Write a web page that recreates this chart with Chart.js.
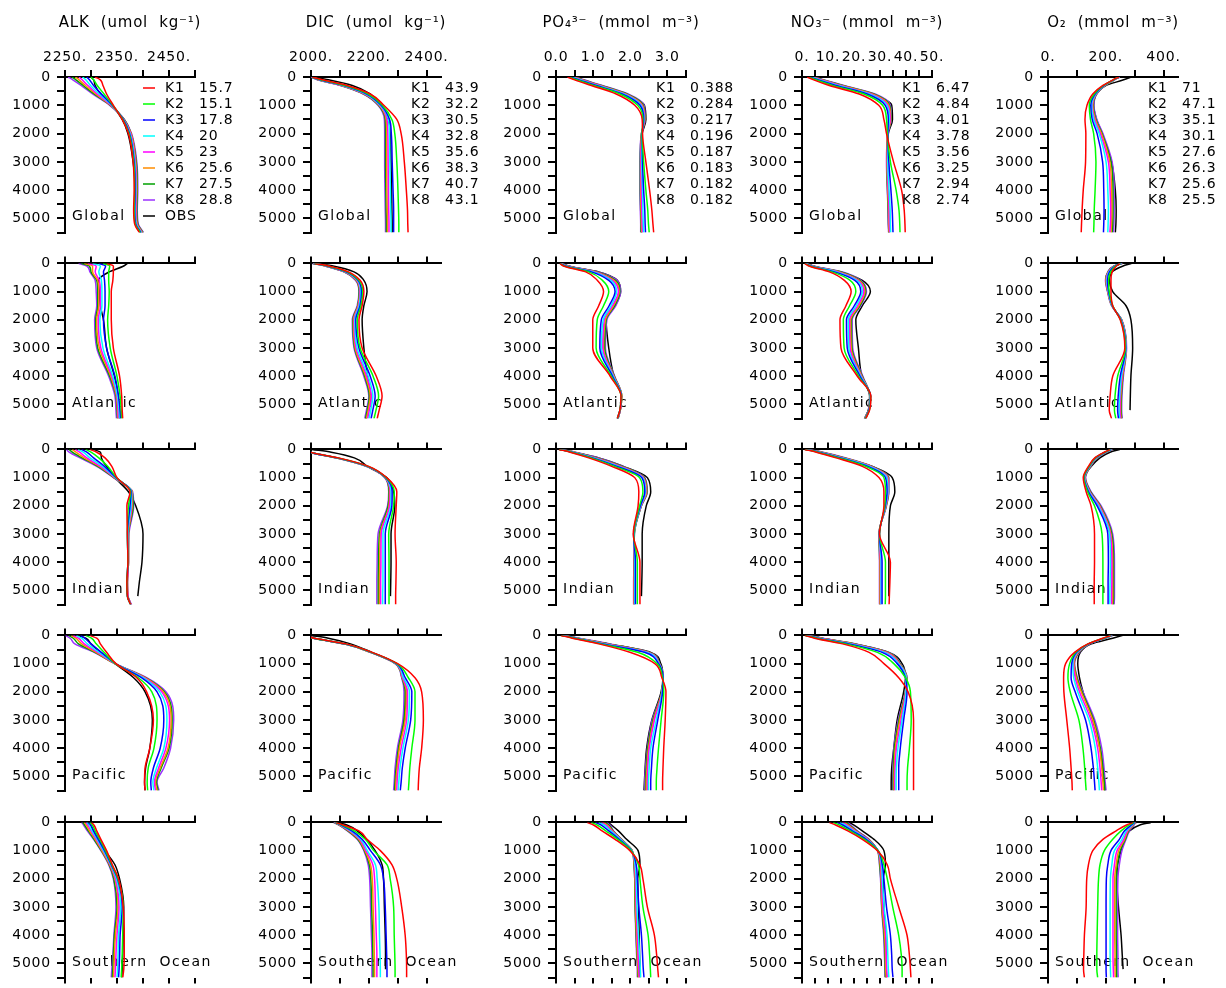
<!DOCTYPE html>
<html>
<head>
<meta charset="utf-8">
<script src="https://cdn.jsdelivr.net/npm/chart.js@4/dist/chart.umd.min.js"></script>
<style>
  body { margin: 0; background: #fff; }
  #wrap { position: relative; width: 1226px; height: 988px; overflow: hidden; background: #fff; }
  #wrap canvas { position: absolute; }
</style>
</head>
<body>
<div id="wrap"></div>
<script>
// depth levels (m) shared by every profile
const depths = [0, 100, 300, 600, 1000, 1500, 2000, 3000, 4000, 4700, 5200, 5500];

const runs = ["K1", "K2", "K3", "K4", "K5", "K6", "K7", "K8", "OBS"];
const runColors = ["#ff0000", "#00ff00", "#0000ff", "#00ffff", "#ff00ff", "#ff8c00", "#00a000", "#9b30ff", "#000000"];
const basins = ["Global", "Atlantic", "Indian", "Pacific", "Southern  Ocean"];

// numbers printed next to K1..K8 in the top row
const alkScores = [15.7, 15.1, 17.8, 20, 23, 25.6, 27.5, 28.8];
const dicScores = [43.9, 32.2, 30.5, 32.8, 35.6, 38.3, 40.7, 43.1];
const po4Scores = [0.388, 0.284, 0.217, 0.196, 0.187, 0.183, 0.182, 0.182];
const no3Scores = [6.47, 4.84, 4.01, 3.78, 3.56, 3.25, 2.94, 2.74];
const o2Scores = [71, 47.1, 35.1, 30.1, 27.6, 26.3, 25.6, 25.5];

// ---- ALK (umol/kg), rows: K1..K8, OBS ----
const alkGlobal = [
  [2308, 2318, 2323, 2330, 2343, 2360, 2372, 2381, 2383, 2382, 2384, 2393],
  [2300, 2305, 2312, 2325, 2342, 2361, 2373, 2382, 2384, 2383, 2385, 2395],
  [2292, 2297, 2305, 2320, 2341, 2362, 2374, 2383, 2385, 2384, 2386, 2396],
  [2284, 2290, 2299, 2316, 2340, 2362, 2375, 2384, 2386, 2385, 2387, 2397],
  [2277, 2283, 2294, 2312, 2339, 2363, 2376, 2385, 2387, 2386, 2388, 2398],
  [2270, 2277, 2289, 2309, 2338, 2363, 2377, 2386, 2388, 2387, 2389, 2399],
  [2263, 2271, 2285, 2306, 2337, 2364, 2377, 2387, 2389, 2388, 2390, 2400],
  [2256, 2265, 2281, 2303, 2336, 2364, 2378, 2388, 2390, 2389, 2391, 2401],
  [2300, 2305, 2308, 2318, 2340, 2360, 2371, 2381, 2385, 2384, 2386, 2395]
];
const alkAtlantic = [
  [2330, 2343, 2343, 2342, 2339, 2339, 2339, 2343, 2355, 2359, 2360, 2361],
  [2323, 2336, 2334, 2334, 2335, 2334, 2332, 2337, 2350, 2356, 2358, 2359],
  [2315, 2328, 2324, 2326, 2327, 2327, 2324, 2330, 2346, 2353, 2356, 2357],
  [2303, 2318, 2315, 2320, 2321, 2321, 2317, 2323, 2342, 2351, 2354, 2355],
  [2294, 2310, 2308, 2316, 2318, 2318, 2314, 2319, 2340, 2350, 2352, 2353],
  [2287, 2303, 2303, 2313, 2315, 2315, 2311, 2316, 2338, 2349, 2351, 2352],
  [2281, 2297, 2300, 2311, 2313, 2313, 2309, 2313, 2336, 2348, 2350, 2351],
  [2276, 2292, 2298, 2308, 2310, 2311, 2307, 2311, 2334, 2346, 2348, 2349],
  [2370, 2362, 2335, 2314, 2316, 2318, 2324, 2330, 2345, 2352, 2354, 2355]
];
const alkIndian = [
  [2298, 2311, 2327, 2340, 2350, 2375, 2369, 2370, 2371, 2369, 2370, 2376],
  [2290, 2300, 2315, 2332, 2349, 2376, 2372, 2370, 2371, 2369, 2370, 2376],
  [2282, 2292, 2305, 2326, 2348, 2377, 2375, 2370, 2371, 2369, 2370, 2376],
  [2275, 2285, 2298, 2322, 2347, 2378, 2377, 2371, 2371, 2369, 2370, 2376],
  [2270, 2278, 2292, 2318, 2346, 2378, 2378, 2371, 2372, 2370, 2371, 2377],
  [2264, 2271, 2287, 2316, 2345, 2379, 2379, 2372, 2372, 2370, 2371, 2377],
  [2258, 2264, 2283, 2313, 2344, 2379, 2381, 2372, 2372, 2370, 2371, 2377],
  [2253, 2258, 2279, 2311, 2343, 2380, 2382, 2373, 2372, 2370, 2371, 2378],
  [2305, 2318, 2320, 2330, 2346, 2372, 2386, 2400, 2398, 2393, 2390, null]
];
const alkPacific = [
  [2298, 2311, 2318, 2330, 2348, 2388, 2407, 2420, 2413, 2404, 2403, 2404],
  [2290, 2301, 2310, 2325, 2347, 2391, 2417, 2427, 2421, 2410, 2408, 2409],
  [2280, 2288, 2300, 2320, 2347, 2397, 2427, 2440, 2433, 2420, 2415, 2416],
  [2272, 2282, 2293, 2316, 2347, 2400, 2432, 2446, 2440, 2426, 2419, 2421],
  [2266, 2276, 2287, 2313, 2347, 2402, 2436, 2451, 2444, 2430, 2422, 2424],
  [2262, 2271, 2282, 2310, 2346, 2404, 2439, 2454, 2448, 2433, 2424, 2427],
  [2257, 2266, 2276, 2308, 2346, 2405, 2441, 2456, 2450, 2435, 2426, 2429],
  [2251, 2260, 2269, 2306, 2346, 2407, 2444, 2459, 2453, 2440, 2427, 2431],
  [2275, 2290, 2300, 2318, 2346, 2382, 2404, 2418, 2413, 2405, 2403, 2404]
];
const alkSouthern = [
  [2301, 2306, 2311, 2319, 2330, 2341, 2353, 2362, 2364, 2364, 2363, 2361],
  [2298, 2303, 2308, 2317, 2328, 2340, 2352, 2362, 2361, 2360, 2359, 2358],
  [2295, 2300, 2305, 2314, 2326, 2339, 2351, 2360, 2356, 2355, 2354, 2353],
  [2292, 2297, 2302, 2312, 2324, 2338, 2349, 2357, 2353, 2352, 2351, 2350],
  [2290, 2294, 2300, 2310, 2323, 2337, 2347, 2354, 2350, 2348, 2347, 2346],
  [2287, 2291, 2297, 2308, 2321, 2336, 2346, 2352, 2347, 2345, 2344, 2343],
  [2284, 2288, 2295, 2306, 2320, 2335, 2344, 2350, 2345, 2343, 2342, 2341],
  [2282, 2286, 2293, 2305, 2319, 2334, 2343, 2348, 2344, 2342, 2340, 2339],
  [2290, 2298, 2305, 2314, 2327, 2346, 2355, 2363, 2362, 2361, 2360, 2359]
];

// ---- DIC (umol/kg) ----
const dicGlobal = [
  [2005, 2040, 2125, 2205, 2252, 2297, 2312, 2323, 2330, 2334, 2335, 2336],
  [2004, 2035, 2118, 2198, 2247, 2280, 2290, 2297, 2301, 2303, 2304, 2304],
  [2003, 2032, 2114, 2193, 2243, 2272, 2278, 2281, 2284, 2286, 2286, 2286],
  [2003, 2030, 2111, 2190, 2240, 2268, 2272, 2273, 2275, 2276, 2277, 2277],
  [2002, 2028, 2108, 2187, 2238, 2263, 2266, 2267, 2268, 2269, 2270, 2270],
  [2002, 2026, 2106, 2185, 2236, 2260, 2262, 2262, 2263, 2264, 2265, 2265],
  [2001, 2024, 2104, 2183, 2234, 2257, 2258, 2258, 2259, 2260, 2261, 2261],
  [2001, 2022, 2102, 2181, 2232, 2254, 2255, 2255, 2256, 2257, 2258, 2258],
  [2005, 2060, 2143, 2205, 2240, 2268, 2274, 2277, 2279, 2280, 2281, 2281]
];
const dicAtlantic = [
  [2012, 2065, 2130, 2170, 2183, 2177, 2166, 2177, 2226, 2246, 2236, 2229],
  [2011, 2062, 2126, 2166, 2179, 2173, 2160, 2170, 2215, 2234, 2225, 2218],
  [2010, 2059, 2122, 2163, 2175, 2170, 2155, 2166, 2205, 2222, 2214, 2208],
  [2009, 2057, 2120, 2161, 2172, 2167, 2152, 2160, 2198, 2214, 2207, 2201],
  [2008, 2055, 2118, 2159, 2170, 2165, 2149, 2156, 2193, 2209, 2202, 2196],
  [2007, 2054, 2116, 2157, 2169, 2163, 2147, 2153, 2189, 2205, 2198, 2192],
  [2006, 2052, 2115, 2156, 2167, 2162, 2145, 2151, 2186, 2202, 2195, 2189],
  [2005, 2051, 2114, 2154, 2166, 2160, 2143, 2149, 2183, 2200, 2192, 2186],
  [2010, 2080, 2149, 2183, 2194, 2183, 2177, 2183, 2195, 2205, 2195, 2190]
];
const dicIndian = [
  [1985, 1996, 2095, 2200, 2262, 2297, 2295, 2291, 2295, 2294, 2293, 2293],
  [1985, 1996, 2093, 2198, 2260, 2288, 2286, 2269, 2270, 2270, 2270, 2270],
  [1984, 1995, 2091, 2196, 2259, 2281, 2280, 2257, 2257, 2257, 2257, 2257],
  [1984, 1995, 2090, 2195, 2258, 2277, 2276, 2249, 2249, 2249, 2248, 2248],
  [1984, 1995, 2089, 2194, 2257, 2274, 2272, 2243, 2242, 2241, 2241, 2241],
  [1983, 1994, 2088, 2193, 2257, 2272, 2270, 2240, 2238, 2237, 2237, 2237],
  [1983, 1994, 2087, 2192, 2256, 2270, 2267, 2237, 2234, 2233, 2233, 2233],
  [1983, 1994, 2086, 2191, 2255, 2269, 2265, 2232, 2229, 2228, 2228, 2228],
  [2003, 2070, 2150, 2195, 2262, 2286, 2290, 2277, 2277, 2276, 2275, null]
];
const dicPacific = [
  [1975, 2012, 2122, 2212, 2300, 2360, 2383, 2389, 2383, 2375, 2372, 2371],
  [1975, 2011, 2120, 2210, 2298, 2337, 2360, 2360, 2349, 2342, 2339, 2337],
  [1974, 2010, 2118, 2209, 2296, 2326, 2349, 2345, 2326, 2316, 2312, 2309],
  [1974, 2010, 2117, 2208, 2295, 2320, 2341, 2337, 2318, 2308, 2304, 2302],
  [1973, 2009, 2116, 2207, 2294, 2317, 2334, 2331, 2312, 2302, 2298, 2297],
  [1973, 2009, 2115, 2206, 2293, 2316, 2330, 2326, 2306, 2298, 2294, 2293],
  [1972, 2008, 2115, 2206, 2292, 2315, 2326, 2322, 2303, 2295, 2291, 2290],
  [1972, 2008, 2114, 2205, 2291, 2314, 2322, 2318, 2299, 2291, 2288, 2286],
  [2000, 2060, 2137, 2210, 2295, 2318, 2329, 2322, 2303, 2295, 2291, 2291]
];
const dicSouthern = [
  [2085, 2114, 2166, 2194, 2240, 2280, 2297, 2314, 2326, 2330, 2331, 2331],
  [2084, 2110, 2150, 2188, 2217, 2263, 2274, 2286, 2288, 2290, 2291, 2291],
  [2083, 2106, 2142, 2177, 2206, 2240, 2251, 2257, 2260, 2262, 2263, 2263],
  [2082, 2104, 2138, 2172, 2195, 2223, 2229, 2235, 2237, 2239, 2240, 2240],
  [2081, 2102, 2134, 2168, 2190, 2214, 2220, 2223, 2226, 2228, 2228, 2228],
  [2080, 2100, 2131, 2165, 2187, 2206, 2212, 2215, 2218, 2219, 2220, 2220],
  [2079, 2098, 2128, 2162, 2185, 2202, 2207, 2210, 2213, 2214, 2215, 2215],
  [2078, 2097, 2126, 2160, 2183, 2198, 2203, 2206, 2209, 2211, 2211, 2211],
  [2090, 2126, 2160, 2192, 2222, 2246, 2251, 2254, 2257, 2258, 2258, null]
];

// ---- PO4 (mmol/m3) ----
const po4Global = [
  [0.31, 0.50, 0.95, 1.62, 2.12, 2.32, 2.33, 2.42, 2.52, 2.58, 2.61, 2.63],
  [0.35, 0.55, 1.02, 1.72, 2.20, 2.34, 2.32, 2.36, 2.42, 2.47, 2.49, 2.51],
  [0.39, 0.60, 1.08, 1.78, 2.26, 2.36, 2.32, 2.33, 2.36, 2.39, 2.40, 2.41],
  [0.42, 0.64, 1.12, 1.82, 2.29, 2.37, 2.31, 2.31, 2.33, 2.34, 2.35, 2.36],
  [0.45, 0.67, 1.16, 1.85, 2.31, 2.38, 2.31, 2.29, 2.30, 2.31, 2.32, 2.33],
  [0.47, 0.70, 1.19, 1.88, 2.33, 2.39, 2.31, 2.28, 2.28, 2.29, 2.30, 2.31],
  [0.49, 0.72, 1.22, 1.91, 2.35, 2.39, 2.30, 2.27, 2.27, 2.28, 2.29, 2.29],
  [0.51, 0.75, 1.25, 1.94, 2.37, 2.40, 2.30, 2.26, 2.26, 2.27, 2.28, 2.28],
  [0.50, 0.70, 1.15, 1.85, 2.38, 2.42, 2.32, 2.28, 2.28, 2.29, 2.30, 2.30]
];
const po4Atlantic = [
  [0.10, 0.22, 0.80, 1.11, 1.28, 1.15, 0.99, 0.99, 1.46, 1.75, 1.72, 1.65],
  [0.11, 0.24, 0.88, 1.25, 1.42, 1.28, 1.11, 1.08, 1.49, 1.75, 1.72, 1.65],
  [0.12, 0.27, 0.95, 1.42, 1.59, 1.43, 1.22, 1.18, 1.52, 1.76, 1.72, 1.65],
  [0.13, 0.29, 1.00, 1.48, 1.63, 1.48, 1.27, 1.22, 1.54, 1.76, 1.72, 1.66],
  [0.14, 0.31, 1.04, 1.52, 1.68, 1.52, 1.30, 1.26, 1.55, 1.76, 1.73, 1.66],
  [0.15, 0.33, 1.07, 1.56, 1.70, 1.55, 1.33, 1.28, 1.56, 1.77, 1.73, 1.66],
  [0.16, 0.35, 1.10, 1.60, 1.72, 1.58, 1.35, 1.31, 1.57, 1.77, 1.73, 1.67],
  [0.17, 0.37, 1.13, 1.64, 1.74, 1.61, 1.37, 1.33, 1.58, 1.77, 1.73, 1.67],
  [0.15, 0.35, 1.15, 1.65, 1.74, 1.59, 1.35, 1.42, 1.56, 1.76, 1.73, 1.66]
];
const po4Indian = [
  [0.08, 0.38, 0.88, 1.50, 2.12, 2.23, 2.21, 2.08, 2.26, 2.26, 2.26, 2.26],
  [0.09, 0.41, 0.94, 1.58, 2.25, 2.34, 2.25, 2.09, 2.19, 2.19, 2.19, 2.19],
  [0.10, 0.43, 0.98, 1.64, 2.31, 2.39, 2.27, 2.09, 2.14, 2.14, 2.14, 2.14],
  [0.10, 0.45, 1.01, 1.68, 2.33, 2.41, 2.28, 2.10, 2.12, 2.12, 2.12, 2.12],
  [0.11, 0.46, 1.04, 1.72, 2.35, 2.42, 2.29, 2.10, 2.11, 2.11, 2.11, 2.11],
  [0.11, 0.48, 1.07, 1.75, 2.36, 2.44, 2.29, 2.10, 2.11, 2.10, 2.10, 2.10],
  [0.12, 0.50, 1.10, 1.78, 2.38, 2.45, 2.30, 2.11, 2.10, 2.10, 2.10, 2.10],
  [0.12, 0.52, 1.15, 1.81, 2.39, 2.46, 2.30, 2.11, 2.10, 2.09, 2.09, 2.09],
  [0.10, 0.45, 1.15, 1.81, 2.46, 2.55, 2.43, 2.32, 2.32, 2.31, 2.30, null]
];
const po4Pacific = [
  [0.13, 0.44, 1.15, 1.99, 2.66, 2.85, 2.96, 2.94, 2.90, 2.88, 2.87, 2.87],
  [0.15, 0.48, 1.20, 2.20, 2.72, 2.87, 2.90, 2.83, 2.76, 2.72, 2.70, 2.70],
  [0.17, 0.52, 1.26, 2.38, 2.76, 2.88, 2.87, 2.74, 2.61, 2.57, 2.55, 2.55],
  [0.18, 0.54, 1.30, 2.43, 2.77, 2.88, 2.86, 2.70, 2.55, 2.51, 2.49, 2.49],
  [0.19, 0.56, 1.34, 2.46, 2.78, 2.88, 2.86, 2.65, 2.51, 2.47, 2.46, 2.46],
  [0.20, 0.58, 1.38, 2.48, 2.78, 2.88, 2.85, 2.63, 2.49, 2.45, 2.43, 2.43],
  [0.21, 0.60, 1.42, 2.50, 2.79, 2.88, 2.85, 2.61, 2.47, 2.43, 2.41, 2.41],
  [0.22, 0.62, 1.46, 2.52, 2.79, 2.88, 2.85, 2.59, 2.46, 2.41, 2.39, 2.39],
  [0.20, 0.55, 1.40, 2.55, 2.82, 2.88, 2.83, 2.58, 2.44, 2.40, 2.38, 2.37]
];
const po4Southern = [
  [0.84, 1.02, 1.24, 1.59, 1.99, 2.26, 2.34, 2.46, 2.65, 2.71, 2.74, 2.76],
  [0.95, 1.12, 1.34, 1.66, 2.02, 2.22, 2.26, 2.34, 2.48, 2.52, 2.54, 2.55],
  [1.06, 1.22, 1.42, 1.70, 2.03, 2.16, 2.19, 2.23, 2.30, 2.33, 2.35, 2.37],
  [1.15, 1.30, 1.47, 1.73, 2.04, 2.13, 2.16, 2.18, 2.22, 2.25, 2.27, 2.28],
  [1.22, 1.35, 1.50, 1.74, 2.04, 2.12, 2.14, 2.16, 2.19, 2.21, 2.23, 2.24],
  [1.27, 1.39, 1.52, 1.75, 2.05, 2.11, 2.13, 2.14, 2.17, 2.19, 2.21, 2.22],
  [1.32, 1.43, 1.54, 1.76, 2.05, 2.10, 2.12, 2.13, 2.16, 2.18, 2.20, 2.20],
  [1.37, 1.46, 1.55, 1.77, 2.05, 2.10, 2.12, 2.13, 2.15, 2.17, 2.19, 2.19],
  [1.40, 1.50, 1.68, 1.90, 2.21, 2.26, 2.20, 2.22, 2.24, 2.25, 2.26, 2.26]
];

// ---- NO3 (mmol/m3) ----
const no3Global = [
  [2.0, 4.5, 10.5, 22.0, 29.5, 31.5, 32.5, 35.2, 38.3, 39.3, 39.6, 39.7],
  [2.5, 5.3, 11.8, 23.8, 31.0, 32.5, 32.8, 34.0, 36.2, 37.3, 37.6, 37.7],
  [3.0, 6.0, 13.0, 25.0, 32.0, 33.2, 33.0, 33.4, 34.2, 34.7, 34.9, 35.0],
  [3.4, 6.6, 13.8, 25.8, 32.6, 33.6, 33.0, 33.0, 33.5, 33.9, 34.0, 34.1],
  [3.8, 7.1, 14.5, 26.5, 33.0, 33.9, 33.0, 32.8, 33.2, 33.5, 33.6, 33.7],
  [4.1, 7.5, 15.1, 27.1, 33.4, 34.1, 33.0, 32.7, 33.0, 33.3, 33.4, 33.5],
  [4.4, 7.9, 15.6, 27.6, 33.7, 34.2, 33.0, 32.6, 32.9, 33.2, 33.3, 33.4],
  [4.7, 8.3, 16.1, 28.1, 34.0, 34.3, 33.0, 32.5, 32.8, 33.1, 33.2, 33.3],
  [4.5, 7.5, 14.5, 27.0, 34.5, 34.8, 33.2, 32.8, 33.0, 33.2, 33.3, 33.4]
];
const no3Atlantic = [
  [1.0, 2.9, 10.5, 16.3, 18.9, 16.9, 14.6, 15.0, 21.3, 26.5, 26.0, 24.5],
  [1.2, 3.2, 11.5, 18.5, 20.7, 18.3, 15.9, 16.2, 21.8, 26.4, 25.9, 24.4],
  [1.4, 3.5, 12.5, 20.3, 22.6, 20.1, 17.1, 17.4, 22.3, 26.4, 25.8, 24.4],
  [1.5, 3.8, 13.2, 21.0, 23.2, 20.8, 17.8, 18.0, 22.6, 26.3, 25.8, 24.3],
  [1.6, 4.0, 13.8, 21.5, 23.8, 21.4, 18.3, 18.5, 22.8, 26.3, 25.7, 24.3],
  [1.7, 4.2, 14.4, 21.9, 24.2, 21.9, 18.7, 18.9, 23.0, 26.2, 25.7, 24.2],
  [1.8, 4.5, 15.0, 22.3, 24.5, 22.3, 19.0, 19.2, 23.2, 26.2, 25.6, 24.2],
  [1.9, 4.8, 15.6, 22.6, 24.8, 22.6, 19.3, 19.5, 23.4, 26.1, 25.6, 24.1],
  [2.0, 4.5, 14.5, 23.2, 26.3, 23.2, 20.7, 21.7, 23.0, 26.0, 25.5, 24.0]
];
const no3Indian = [
  [1.0, 5.5, 13.1, 23.2, 29.6, 31.5, 31.5, 29.8, 34.0, 33.8, 33.6, 33.5],
  [1.2, 6.0, 14.0, 24.5, 31.5, 32.1, 31.8, 29.8, 32.1, 32.1, 32.1, 32.0],
  [1.4, 6.4, 14.7, 25.3, 32.1, 32.7, 32.0, 29.8, 30.8, 30.8, 30.8, 30.8],
  [1.5, 6.7, 15.2, 25.9, 32.6, 33.0, 32.1, 29.8, 30.4, 30.4, 30.4, 30.4],
  [1.6, 7.0, 15.6, 26.3, 32.9, 33.1, 32.2, 29.7, 30.2, 30.2, 30.2, 30.2],
  [1.7, 7.3, 16.0, 26.6, 33.1, 33.2, 32.3, 29.7, 30.0, 30.0, 30.0, 30.0],
  [1.8, 7.6, 16.4, 26.9, 33.3, 33.3, 32.4, 29.6, 29.9, 29.9, 29.9, 29.9],
  [1.9, 8.0, 16.9, 27.1, 33.4, 33.4, 32.5, 29.6, 29.8, 29.8, 29.8, 29.8],
  [2.0, 7.0, 15.5, 27.0, 34.7, 35.7, 34.0, 33.4, 33.4, 33.4, 33.4, null]
];
const no3Pacific = [
  [1.0, 4.8, 15.6, 25.8, 31.5, 37.2, 40.8, 42.9, 42.9, 42.9, 42.9, 42.9],
  [1.3, 5.5, 16.8, 29.0, 35.3, 39.8, 41.7, 42.0, 41.3, 40.6, 40.4, 40.4],
  [1.6, 6.0, 18.0, 30.8, 36.6, 39.8, 40.4, 39.1, 37.8, 37.2, 37.2, 37.2],
  [1.8, 6.4, 18.7, 31.7, 37.0, 40.0, 40.0, 38.5, 36.9, 36.3, 36.2, 36.2],
  [2.0, 6.8, 19.3, 32.3, 37.3, 40.1, 39.9, 38.1, 36.3, 35.8, 35.7, 35.7],
  [2.2, 7.2, 19.8, 32.8, 37.5, 40.2, 39.9, 37.6, 35.9, 35.5, 35.4, 35.4],
  [2.4, 7.6, 20.3, 33.1, 37.7, 40.3, 39.8, 37.3, 35.5, 35.2, 35.1, 35.1],
  [2.6, 8.0, 20.7, 33.4, 37.8, 40.4, 39.8, 37.0, 35.3, 35.0, 34.9, 34.9],
  [2.5, 7.5, 20.0, 33.4, 38.5, 39.8, 39.1, 36.6, 35.3, 34.5, 34.3, 34.3]
];
const no3Southern = [
  [10.5, 13.1, 17.6, 23.2, 29.0, 32.8, 34.0, 37.2, 40.4, 41.3, 41.7, 41.9],
  [12.0, 14.5, 18.5, 24.0, 29.3, 31.5, 32.8, 34.9, 37.2, 38.2, 38.5, 38.5],
  [13.5, 15.8, 19.3, 24.6, 29.3, 30.9, 31.5, 32.5, 34.0, 34.5, 34.7, 35.0],
  [14.6, 16.7, 19.9, 24.9, 29.2, 30.6, 30.9, 31.6, 32.7, 33.0, 33.2, 33.4],
  [15.5, 17.3, 20.3, 25.2, 29.2, 30.3, 30.6, 31.1, 32.2, 32.4, 32.6, 32.8],
  [16.3, 17.8, 20.7, 25.4, 29.1, 30.1, 30.4, 30.8, 31.8, 32.1, 32.2, 32.4],
  [17.0, 18.3, 21.0, 25.6, 29.1, 29.9, 30.3, 30.7, 31.6, 31.9, 32.0, 32.1],
  [17.6, 18.8, 21.3, 25.8, 29.0, 29.8, 30.2, 30.6, 31.4, 31.7, 31.9, 31.9],
  [18.2, 20.0, 23.2, 27.7, 31.5, 32.1, 31.2, 31.5, 32.1, 32.3, 32.4, 32.4]
];

// ---- O2 (mmol/m3) ----
const o2Global = [
  [245, 225, 190, 155, 135, 128, 131, 130, 122, 118, 116, 115],
  [245, 226, 192, 160, 143, 147, 158, 166, 163, 160, 159, 158],
  [246, 227, 194, 163, 148, 153, 170, 189, 193, 194, 193, 192],
  [246, 228, 195, 165, 151, 158, 177, 201, 207, 209, 208, 207],
  [247, 229, 196, 166, 153, 161, 181, 209, 215, 217, 216, 214],
  [247, 229, 197, 167, 155, 164, 185, 214, 220, 221, 220, 218],
  [247, 230, 198, 168, 157, 166, 187, 218, 225, 225, 224, 222],
  [248, 230, 198, 169, 159, 169, 190, 222, 229, 229, 228, 226],
  [287, 262, 200, 168, 158, 168, 188, 220, 233, 236, 235, 233]
];
const o2Atlantic = [
  [250, 236, 222, 218, 218, 224, 250, 266, 224, 215, 212, 220],
  [252, 234, 217, 210, 212, 224, 251, 268, 241, 232, 230, 235],
  [254, 232, 213, 206, 210, 223, 252, 269, 250, 243, 241, 244],
  [255, 231, 211, 204, 209, 222, 253, 270, 254, 248, 246, 248],
  [256, 230, 210, 202, 208, 222, 254, 270, 256, 250, 249, 251],
  [257, 229, 209, 201, 207, 221, 254, 271, 258, 252, 251, 253],
  [258, 228, 208, 200, 207, 221, 255, 271, 259, 254, 253, 255],
  [258, 227, 207, 199, 206, 220, 255, 272, 261, 256, 255, 257],
  [290, 258, 222, 213, 224, 270, 287, 293, 287, 285, 284, null]
];
const o2Indian = [
  [215, 195, 162, 140, 122, 132, 149, 161, 161, 160, 160, 160],
  [217, 197, 164, 142, 124, 137, 161, 187, 190, 190, 190, 190],
  [219, 198, 165, 143, 125, 140, 170, 207, 209, 208, 208, 208],
  [220, 199, 166, 144, 126, 142, 174, 213, 216, 215, 214, 214],
  [221, 200, 167, 145, 127, 144, 177, 216, 221, 221, 220, 220],
  [222, 201, 168, 146, 128, 145, 179, 218, 224, 224, 224, 223],
  [223, 202, 169, 147, 129, 147, 181, 221, 227, 227, 227, 226],
  [224, 203, 170, 148, 130, 149, 184, 224, 230, 230, 230, 229],
  [250, 215, 180, 150, 125, 145, 178, 215, 225, 228, 228, null]
];
const o2Pacific = [
  [218, 190, 138, 92, 61, 54, 55, 65, 75, 80, 83, 84],
  [219, 192, 139, 96, 75, 69, 77, 107, 121, 127, 130, 132],
  [220, 194, 140, 99, 82, 80, 94, 130, 149, 157, 161, 163],
  [221, 195, 141, 101, 86, 89, 103, 142, 164, 172, 176, 178],
  [222, 196, 142, 103, 88, 94, 109, 149, 172, 180, 184, 186],
  [222, 197, 142, 105, 90, 98, 115, 155, 178, 186, 190, 192],
  [223, 198, 143, 107, 91, 100, 118, 158, 181, 190, 195, 197],
  [224, 199, 144, 109, 92, 102, 121, 162, 186, 194, 198, 201],
  [259, 224, 150, 112, 103, 109, 121, 155, 180, 190, 195, 197]
];
const o2Southern = [
  [295, 270, 236, 190, 155, 140, 134, 132, 126, 124, 123, 126],
  [298, 280, 253, 224, 195, 180, 175, 172, 170, 169, 169, 172],
  [300, 287, 265, 247, 218, 207, 202, 201, 201, 201, 201, 202],
  [301, 290, 271, 256, 230, 221, 216, 215, 215, 215, 216, 217],
  [302, 292, 275, 262, 239, 230, 225, 225, 225, 225, 226, 227],
  [303, 294, 277, 265, 245, 236, 231, 231, 231, 232, 232, 233],
  [304, 295, 279, 268, 250, 240, 236, 236, 236, 237, 237, 238],
  [305, 297, 282, 270, 256, 247, 242, 241, 241, 242, 242, 243],
  [356, 316, 282, 266, 253, 241, 238, 244, 253, 257, 260, null]
];

// one column per variable
const columns = [
  { title: "ALK  (umol  kg⁻¹)", min: 2250, max: 2500, step: 50, fmt: v => v + ".",
    panels: [alkGlobal, alkAtlantic, alkIndian, alkPacific, alkSouthern], scores: alkScores },
  { title: "DIC  (umol  kg⁻¹)", min: 2000, max: 2450, step: 100, fmt: v => v + ".",
    panels: [dicGlobal, dicAtlantic, dicIndian, dicPacific, dicSouthern], scores: dicScores },
  { title: "PO₄³⁻  (mmol  m⁻³)", min: 0, max: 3.5, step: 0.5, fmt: v => v.toFixed(1),
    panels: [po4Global, po4Atlantic, po4Indian, po4Pacific, po4Southern], scores: po4Scores },
  { title: "NO₃⁻  (mmol  m⁻³)", min: 0, max: 50, step: 5, fmt: v => v + ".",
    panels: [no3Global, no3Atlantic, no3Indian, no3Pacific, no3Southern], scores: no3Scores },
  { title: "O₂  (mmol  m⁻³)", min: 0, max: 450, step: 100, fmt: v => v + ".",
    panels: [o2Global, o2Atlantic, o2Indian, o2Pacific, o2Southern], scores: o2Scores }
];

Chart.defaults.font.family = '"DejaVu Sans", sans-serif';
Chart.defaults.font.size = 14;
Chart.defaults.color = "#000";

// region name, legend and a slightly wider letter spacing
const panelText = {
  id: "panelText",
  beforeDraw(chart) {
    chart.ctx.letterSpacing = "0.8px";
  },
  beforeDatasetsDraw(chart, args, opts) {
    const { ctx, chartArea } = chart;
    ctx.save();
    ctx.font = '14px "DejaVu Sans", sans-serif';
    ctx.letterSpacing = "1.5px";
    ctx.fillStyle = "#000";
    ctx.textBaseline = "middle";
    ctx.fillText(opts.basin, chartArea.left + 7, chartArea.top + 139.5);
    ctx.restore();
  },
  afterDraw(chart, args, opts) {
    if (!opts.scores) return;
    const { ctx, chartArea } = chart;
    ctx.save();
    ctx.font = '14px "DejaVu Sans", sans-serif';
    ctx.fillStyle = "#000";
    ctx.textBaseline = "middle";
    const n = opts.withLines ? runs.length : opts.scores.length;
    for (let i = 0; i < n; i++) {
      const y = chartArea.top + 11 + i * 16;
      if (opts.withLines) {
        ctx.strokeStyle = runColors[i];
        ctx.lineWidth = 1.5;
        ctx.beginPath();
        ctx.moveTo(chartArea.left + 78, y);
        ctx.lineTo(chartArea.left + 90, y);
        ctx.stroke();
      }
      ctx.fillText(runs[i], chartArea.left + 100, y);
      if (i < opts.scores.length) ctx.fillText(String(opts.scores[i]), chartArea.left + 134, y);
    }
    ctx.restore();
  }
};

const wrap = document.getElementById("wrap");
const axisGrid = len => ({ drawOnChartArea: false, drawTicks: true, tickLength: len, color: "#000", lineWidth: 2 });
const axisBorder = { display: true, color: "#000", width: 2 };

// each canvas is 65 + 130 + 65 px wide; an empty right axis keeps the plot centred under the title
function buildPanel(col, row) {
  const c = columns[col];
  const isTop = row === 0;
  const isBottom = row === basins.length - 1;
  const topSpace = isTop ? 77 : 14;
  const W = 260;
  const H = topSpace + 160 + 10;

  const canvas = document.createElement("canvas");
  canvas.width = W;
  canvas.height = H;
  canvas.style.left = Math.round(col * 245.7) + "px";
  canvas.style.top = (Math.round(76.7 + row * 186.2) - topSpace) + "px";
  wrap.appendChild(canvas);

  const profiles = c.panels[row];
  const datasets = profiles.map((vals, k) => ({
    label: runs[k],
    data: depths.map((d, i) => ({ x: vals[i], y: d })),
    borderColor: runColors[k],
    borderWidth: 1.5,
    pointRadius: 0,
    fill: false,
    cubicInterpolationMode: "monotone",
    clip: 0
  }));

  const xTicks = {
    display: isTop,
    stepSize: c.step,
    includeBounds: false,
    autoSkip: false,
    maxRotation: 0,
    minRotation: 0,
    padding: 4,
    callback: (v, i) => (i % 2 ? "" : c.fmt(v))
  };

  const scales = {
    x: {
      type: "linear", position: "top", min: c.min, max: c.max,
      ticks: xTicks, grid: axisGrid(7), border: axisBorder,
      afterFit: s => { s.height = isTop ? 46 : 14; }
    },
    y: {
      type: "linear", position: "left", reverse: true, min: 0, max: 5500,
      ticks: { stepSize: 500, autoSkip: false, padding: 6, callback: v => (v % 1000 === 0 ? String(v) : "") },
      grid: axisGrid(8), border: axisBorder,
      afterFit: s => { s.width = 65; }
    },
    yRight: {
      type: "linear", position: "right", reverse: true, min: 0, max: 5500,
      ticks: { display: false },
      grid: { display: false, drawTicks: false },
      border: { display: false },
      afterFit: s => { s.width = W - 65 - 130; }
    }
  };
  if (isBottom) {
    scales.x2 = {
      type: "linear", position: "bottom", min: c.min, max: c.max,
      ticks: { display: false, stepSize: c.step, includeBounds: false, autoSkip: false },
      grid: axisGrid(6), border: { display: false },
      afterFit: s => { s.height = 10; }
    };
  }

  new Chart(canvas, {
    type: "line",
    data: { datasets },
    options: {
      responsive: false,
      animation: false,
      events: [],
      indexAxis: "y",
      layout: { padding: { left: 0, top: 0, right: 0, bottom: isBottom ? 0 : 10 } },
      scales,
      plugins: {
        legend: { display: false },
        tooltip: { enabled: false },
        title: {
          display: isTop,
          text: c.title,
          color: "#000",
          font: { size: 15, weight: "normal", lineHeight: 1 },
          padding: { top: 16, bottom: 0 }
        },
        panelText: {
          basin: basins[row],
          scores: isTop ? c.scores : null,
          withLines: isTop && col === 0
        }
      }
    },
    plugins: [panelText]
  });
}

for (let r = 0; r < basins.length; r++) {
  for (let c = 0; c < columns.length; c++) buildPanel(c, r);
}
</script>
</body>
</html>
